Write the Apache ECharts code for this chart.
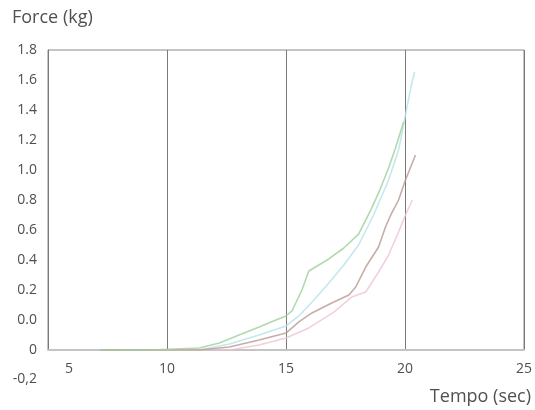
<!DOCTYPE html>
<html lang="en">
<head>
    <meta charset="UTF-8">
    <title>Force</title>
    <script src="https://cdn.jsdelivr.net/npm/echarts@6/dist/echarts.min.js"></script>
    <style>
        body { margin: 0; background: #fff; }
        #main { width: 535px; height: 410px; }
    </style>
</head>
<body>
<div id="main"></div>
<script type="text/javascript">
    // x axis ticks
    var xTicks = [5, 10, 15, 20, 25];
    // y tick labels, bottom to top (as printed on the original)
    var yTickLabels = ['0', '0.0', '0.2', '0.4', '0.6', '0.8', '1.0', '1.2', '1.4', '1.6', '1.8'];

    // curves: [tempo, force]
    var green = [[7.2, 0], [9.3, 0], [11.36, 0.013], [12.2, 0.047], [13.03, 0.10], [13.87, 0.153],
        [14.58, 0.20], [15.0, 0.227], [15.25, 0.26], [15.67, 0.40], [15.96, 0.527], [16.8, 0.607],
        [17.43, 0.68], [18.05, 0.773], [18.56, 0.933], [18.89, 1.047], [19.31, 1.213], [19.6, 1.347],
        [19.94, 1.52]];
    var cyan = [[8.0, 0], [11.36, 0], [12.62, 0.04], [13.87, 0.10], [15.0, 0.16], [15.54, 0.227],
        [16.17, 0.333], [16.8, 0.447], [17.43, 0.567], [18.05, 0.70], [18.68, 0.90], [19.31, 1.133],
        [19.73, 1.333], [20.02, 1.567], [20.27, 1.767], [20.4, 1.853]];
    var brown = [[7.2, 0], [11.36, 0], [12.62, 0.02], [13.87, 0.067], [15.0, 0.113], [15.54, 0.187],
        [16.09, 0.247], [16.92, 0.313], [17.64, 0.367], [17.93, 0.42], [18.35, 0.553], [18.89, 0.687],
        [19.18, 0.82], [19.44, 0.913], [19.73, 1.0], [20.02, 1.133], [20.44, 1.30]];
    var pink = [[9.0, 0], [12.62, 0], [13.87, 0.033], [15.0, 0.08], [15.96, 0.147], [17.01, 0.253],
        [17.76, 0.353], [18.35, 0.387], [18.89, 0.52], [19.31, 0.633], [19.73, 0.787], [20.02, 0.90],
        [20.31, 1.0]];

    var font = '"Open Sans"';
    var txt = '#505050';
    var myChart = echarts.init(document.getElementById('main'));

    function line(name, data, color) {
        return {
            name: name,
            type: 'line',
            data: data,
            showSymbol: false,
            lineStyle: { color: color, width: 1.6, opacity: 0.8 },
            itemStyle: { color: color }
        };
    }

    var option = {
        animation: false,
        grid: { left: 48, right: 9, top: 50, bottom: 60, show: true, borderColor: '#8a8a8a', borderWidth: 1 },
        xAxis: {
            type: 'value',
            min: xTicks[0],
            max: xTicks[xTicks.length - 1],
            interval: 5,
            axisLine: { show: true, lineStyle: { color: '#c4c4c4', width: 2 } },
            axisTick: { show: false },
            splitLine: { show: true, lineStyle: { color: '#7a7a7a', width: 1 } },
            axisLabel: {
                color: txt, fontFamily: font, fontSize: 14, margin: 12,
                formatter: function (v) { return v === xTicks[0] ? '{p|' + v + '}' : String(v); },
                rich: { p: { padding: [0, 0, 0, 42], color: txt, fontFamily: font, fontSize: 14 } }
            }
        },
        yAxis: {
            type: 'value',
            min: 0,
            max: 2.0,
            interval: 0.2,
            axisLine: { show: true, lineStyle: { color: '#7a7a7a' } },
            axisTick: { show: false },
            splitLine: { show: false },
            axisLabel: {
                color: txt, fontFamily: font, fontSize: 14, margin: 11,
                formatter: function (v) { return yTickLabels[Math.round(v / 0.2)]; }
            }
        },
        graphic: [
            { type: 'text', left: 12, top: 9, style: { text: 'Force (kg)', fill: txt, font: '18px ' + font } },
            { type: 'text', x: 531, y: 397, style: { text: 'Tempo (sec)', fill: txt, font: '18px ' + font, textAlign: 'right', textVerticalAlign: 'middle' } },
            { type: 'text', x: 37, y: 379, style: { text: '-0,2', fill: txt, font: '14px ' + font, textAlign: 'right', textVerticalAlign: 'middle' } }
        ],
        series: [
            line('cyan', cyan, '#b5e2ea'),
            line('pink', pink, '#efc3d6'),
            line('brown', brown, '#b89a90'),
            line('green', green, '#9fcf98')
        ]
    };

    myChart.setOption(option);
</script>
</body>
</html>
